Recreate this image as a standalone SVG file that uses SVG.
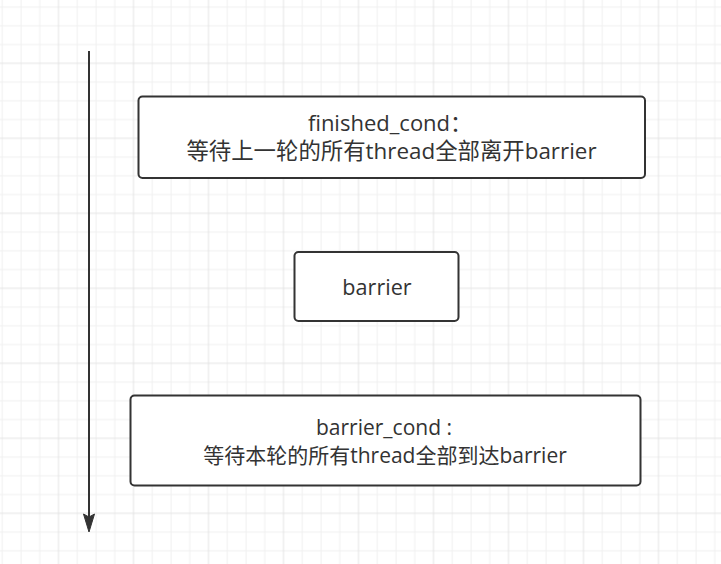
<svg xmlns="http://www.w3.org/2000/svg" width="721" height="564" viewBox="0 0 721 564">
<defs>
<pattern id="grid" patternUnits="userSpaceOnUse" x="11.625" y="16.425" width="75" height="75">
<path d="M9.375 0V75M28.125 0V75M65.625 0V75M0 9.375H75M0 28.125H75M0 65.625H75" stroke="#f0f0f0" stroke-width="1" fill="none"/>
<path d="M46.875 0V75M0 46.875H75" stroke="#e4e4e4" stroke-width="1" fill="none"/>
</pattern>
<style>
.box{fill:#ffffff;stroke:#333333;stroke-width:2}
.t{font-family:"Open Sans","Noto Sans CJK SC",sans-serif;fill:#333333;text-anchor:middle}
</style>
</defs>
<rect x="0" y="0" width="721" height="564" fill="#ffffff"/>
<rect x="0" y="0" width="721" height="564" fill="url(#grid)"/>
<g id="connectors">
<line x1="89" y1="51" x2="89" y2="517" stroke="#333333" stroke-width="2"/>
<polygon points="89,532 83.5,514 89,517 94.5,514" fill="#333333" stroke="#333333" stroke-width="1"/>
</g>
<g id="finished_cond">
<rect class="box" x="138.5" y="96.5" width="506.5" height="81.5" rx="4"/>
<text class="t" x="390" y="131" font-size="22">finished_cond：</text>
<text class="t" x="391.5" y="159" font-size="22.4">等待上一轮的所有thread全部离开barrier</text>
</g>
<g id="barrier">
<rect class="box" x="294.5" y="252" width="164" height="69" rx="4"/>
<text class="t" x="377" y="295" font-size="21.6">barrier</text>
</g>
<g id="barrier_cond">
<rect class="box" x="130.5" y="395.5" width="510" height="90" rx="4"/>
<text class="t" x="384" y="435" font-size="21">barrier_cond :</text>
<text class="t" x="385" y="463" font-size="21">等待本轮的所有thread全部到达barrier</text>
</g>
</svg>
